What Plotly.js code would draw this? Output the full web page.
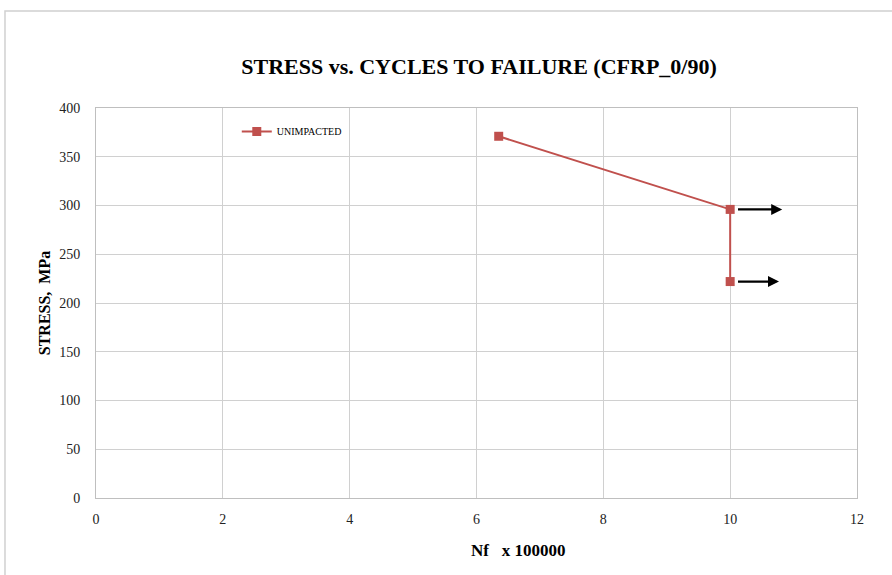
<!DOCTYPE html>
<html>
<head>
<meta charset="utf-8">
<script src="https://cdn.plot.ly/plotly-3.0.1.min.js"></script>
<style>html,body{margin:0;padding:0;background:#fff;}#chart{width:892px;height:575px;}</style>
</head>
<body>
<div id="chart"></div>
<script>
const cyclesX100000 = [6.35, 10.0, 10.0];
const stressMPa = [371, 296, 222];
const runoutIndex = [1, 2];
const runoutTipX = [10.82, 10.77];
const xTicks = [0, 2, 4, 6, 8, 10, 12];
const yTicks = [0, 50, 100, 150, 200, 250, 300, 350, 400];
const seriesName = 'UNIMPACTED';

const serif = 'Liberation Serif, Times New Roman, serif';

const annotations = runoutIndex.map((idx, k) => ({
  x: runoutTipX[k], y: stressMPa[idx], ax: cyclesX100000[idx] + 0.1, ay: stressMPa[idx],
  xref: 'x', yref: 'y', axref: 'x', ayref: 'y',
  showarrow: true, arrowhead: 2, arrowsize: 1, arrowwidth: 2.2, arrowcolor: '#000', text: ''
}));
annotations.push({
  xref: 'paper', yref: 'paper', x: 0.554, y: -0.135, xanchor: 'center', yanchor: 'middle',
  text: '<b>Nf   x 100000</b>', showarrow: false, font: {family: serif, size: 17, color: '#000'}
});

const trace = {
  x: cyclesX100000, y: stressMPa, type: 'scatter', mode: 'lines+markers', name: seriesName,
  line: {color: '#c0504d', width: 2},
  marker: {symbol: 'square', size: 9, color: '#c0504d'}
};

const layout = {
  width: 892, height: 575,
  margin: {l: 96, r: 35, t: 108, b: 77},
  paper_bgcolor: '#fff', plot_bgcolor: '#fff',
  title: {text: '<b>STRESS vs. CYCLES TO FAILURE (CFRP_0/90)</b>', x: 0.537, xanchor: 'center', y: 0.885, yanchor: 'middle',
    font: {family: serif, size: 22, color: '#000'}},
  showlegend: true,
  legend: {x: 0.185, y: 0.94, xanchor: 'left', yanchor: 'middle', bgcolor: 'rgba(0,0,0,0)',
    itemwidth: 30, font: {family: serif, size: 10, color: '#000'}},
  xaxis: {range: [0, 12], tickvals: xTicks, ticktext: xTicks.map(String), showgrid: true, gridcolor: '#d0d0d0',
    zeroline: false, showline: true, linecolor: '#bfbfbf', mirror: true, ticks: '', ticklabelstandoff: 8,
    tickfont: {family: serif, size: 14, color: '#222'}},
  yaxis: {range: [0, 400], tickvals: yTicks, ticktext: yTicks.map(String), showgrid: true, gridcolor: '#d0d0d0',
    zeroline: false, showline: true, linecolor: '#bfbfbf', mirror: true, ticks: '', ticklabelstandoff: 12,
    tickfont: {family: serif, size: 14, color: '#222'},
    title: {text: '<b>STRESS,  MPa</b>', standoff: 4, font: {family: serif, size: 16, color: '#000'}}},
  annotations: annotations,
  shapes: [{type: 'rect', xref: 'paper', yref: 'paper', x0: -0.1196, x1: 1.2, y0: -0.3, y1: 1.2487,
    line: {color: '#d0d0d0', width: 1.5}, fillcolor: 'rgba(0,0,0,0)', layer: 'below'}]
};

Plotly.newPlot('chart', [trace], layout, {displayModeBar: false, staticPlot: true});
</script>
</body>
</html>
